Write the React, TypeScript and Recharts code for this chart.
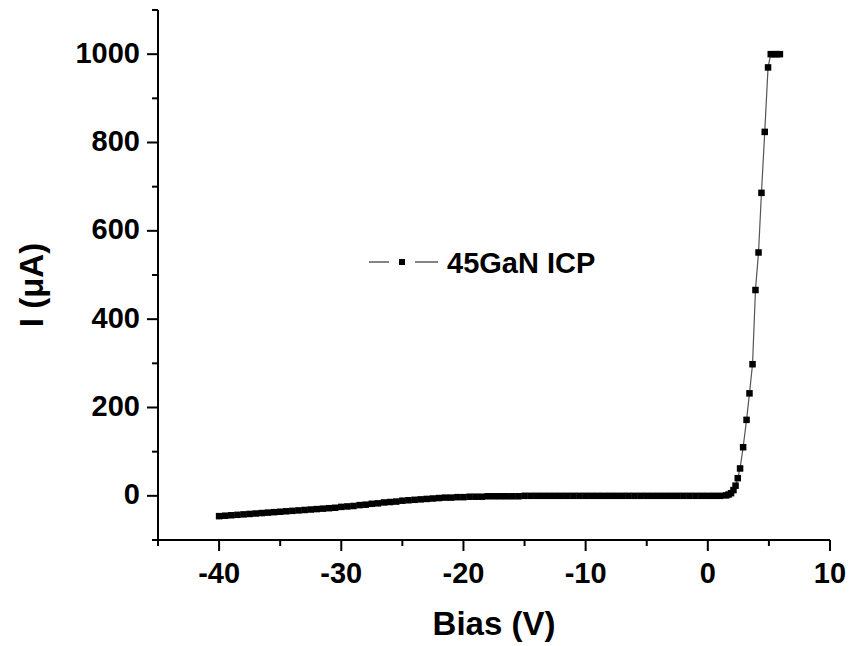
import React from 'react';
import { LineChart, Line, XAxis, YAxis, Label } from 'recharts';

// Bias sweep (V)
const biasV = [
  -40, -39.5, -39, -38.5, -38, -37.5, -37, -36.5, -36, -35.5,
  -35, -34.5, -34, -33.5, -33, -32.5, -32, -31.5, -31, -30.5,
  -30, -29.5, -29, -28.5, -28, -27.5, -27, -26.5, -26, -25.5,
  -25, -24.5, -24, -23.5, -23, -22.5, -22, -21.5, -21, -20.5,
  -20, -19.5, -19, -18.5, -18, -17.5, -17, -16.5, -16, -15.5,
  -15, -14.5, -14, -13.5, -13, -12.5, -12, -11.5, -11, -10.5,
  -10, -9.5, -9, -8.5, -8, -7.5, -7, -6.5, -6, -5.5,
  -5, -4.5, -4, -3.5, -3, -2.5, -2, -1.5, -1, -0.5,
  0, 0.5, 1, 1.5,
  1.7, 1.9, 2.1, 2.27, 2.45, 2.64, 2.89, 3.17, 3.41, 3.66,
  3.9, 4.15, 4.39, 4.66, 4.93, 5.15, 5.4, 5.65, 5.9,
];

// Current (µA)
const currentUA = [
  -46, -45, -44, -43, -42, -41, -40, -39, -38, -37,
  -36, -35, -34, -33, -32, -31, -30, -29, -28, -27,
  -25, -24, -23, -21, -20, -18, -17, -15, -14, -13,
  -11, -10, -9, -8, -7, -6, -5, -4, -4, -3,
  -3, -2, -2, -2, -1, -1, -1, -1, -1, -1,
  0, 0, 0, 0, 0, 0, 0, 0, 0, 0,
  0, 0, 0, 0, 0, 0, 0, 0, 0, 0,
  0, 0, 0, 0, 0, 0, 0, 0, 0, 0,
  0, 0, 0, 1,
  3, 6, 13, 23, 40, 62, 110, 172, 232, 298,
  466, 551, 686, 824, 970, 1000, 1000, 1000, 1000,
];

const xTicks = [-45, -40, -35, -30, -25, -20, -15, -10, -5, 0, 5, 10];
const xTickLabels = [-40, -30, -20, -10, 0, 10];
const yTicks = [-100, 0, 100, 200, 300, 400, 500, 600, 700, 800, 900, 1000, 1100];
const yTickLabels = [0, 200, 400, 600, 800, 1000];

const seriesName = '45GaN ICP';
const xTitle = 'Bias (V)';
const yTitle = 'I (\u03bcA)';

const data = biasV.map((v, k) => ({ v, i: currentUA[k] }));

const FONT = '"Liberation Sans", Arial, Helvetica, sans-serif';

const XTick = (props: any) => {
  const { x, y, payload } = props;
  const v = payload.value;
  const major = xTickLabels.includes(v);
  return (
    <g>
      <line x1={x} x2={x} y1={y} y2={y + (major ? 11 : 6)} stroke="#000" strokeWidth={2} />
      {major && (
        <text
          x={x}
          y={y + 43}
          textAnchor="middle"
          fontFamily={FONT}
          fontWeight="bold"
          fontSize={29}
          fill="#000"
        >
          {v}
        </text>
      )}
    </g>
  );
};

const YTick = (props: any) => {
  const { x, y, payload } = props;
  const v = payload.value;
  const major = yTickLabels.includes(v);
  return (
    <g>
      <line x1={x} x2={x - (major ? 11 : 6)} y1={y} y2={y} stroke="#000" strokeWidth={2} />
      {major && (
        <text
          x={x - 18}
          y={y + 8.5}
          textAnchor="end"
          fontFamily={FONT}
          fontWeight="bold"
          fontSize={29}
          fill="#000"
        >
          {v}
        </text>
      )}
    </g>
  );
};

const XTitle = (props: any) => {
  const vb = props.viewBox || {};
  const cx = vb.x + vb.width / 2;
  const by = vb.y + 95;
  return (
    <text
      x={cx}
      y={by}
      textAnchor="middle"
      fontFamily={FONT}
      fontWeight="bold"
      fontSize={33}
      fill="#000"
    >
      {xTitle}
    </text>
  );
};

const YTitle = (props: any) => {
  const vb = props.viewBox || {};
  const cy = vb.y + vb.height / 2 + 10;
  return (
    <text
      transform={`translate(${43},${cy}) rotate(-90)`}
      textAnchor="middle"
      fontFamily={FONT}
      fontWeight="bold"
      fontSize={33}
      fill="#000"
    >
      {yTitle}
    </text>
  );
};

const SquareDot = (props: any) => {
  const { cx, cy, index } = props;
  if (cx == null || cy == null) return <g key={`d${index}`} />;
  return <rect key={`d${index}`} x={cx - 3.25} y={cy - 3.25} width={6.5} height={6.5} fill="#000" />;
};

export default function App() {
  return (
    <div style={{ position: 'absolute', left: 0, top: 0, width: 849, height: 646, background: '#fff' }}>
      <LineChart
        width={849}
        height={646}
        data={data}
        margin={{ top: 10, right: 19, bottom: 0, left: 0 }}
      >
        <XAxis
          dataKey="v"
          type="number"
          domain={[-45, 10]}
          ticks={xTicks}
          interval={0}
          allowDataOverflow
          height={106}
          tickSize={0}
          tickMargin={0}
          tickLine={false}
          tick={<XTick />}
          axisLine={{ stroke: '#000', strokeWidth: 2 }}
        >
          <Label content={<XTitle />} />
        </XAxis>
        <YAxis
          dataKey="i"
          type="number"
          domain={[-100, 1100]}
          ticks={yTicks}
          interval={0}
          allowDataOverflow
          width={158}
          tickSize={0}
          tickMargin={0}
          tickLine={false}
          tick={<YTick />}
          axisLine={{ stroke: '#000', strokeWidth: 2 }}
        >
          <Label content={<YTitle />} />
        </YAxis>
        <Line
          type="linear"
          dataKey="i"
          name={seriesName}
          stroke="#555"
          strokeWidth={1.2}
          dot={<SquareDot />}
          activeDot={false}
          isAnimationActive={false}
        />
      </LineChart>
      <svg
        width={260}
        height={50}
        style={{ position: 'absolute', left: 360, top: 240 }}
      >
        <line x1={9} x2={29} y1={22} y2={22} stroke="#333" strokeWidth={1.2} />
        <rect x={39} y={19} width={6} height={6} fill="#000" />
        <line x1={55} x2={78} y1={22} y2={22} stroke="#333" strokeWidth={1.2} />
        <text
          x={87}
          y={33.3}
          fontFamily={FONT}
          fontWeight="bold"
          fontSize={29}
          fill="#000"
        >
          {seriesName}
        </text>
      </svg>
    </div>
  );
}
